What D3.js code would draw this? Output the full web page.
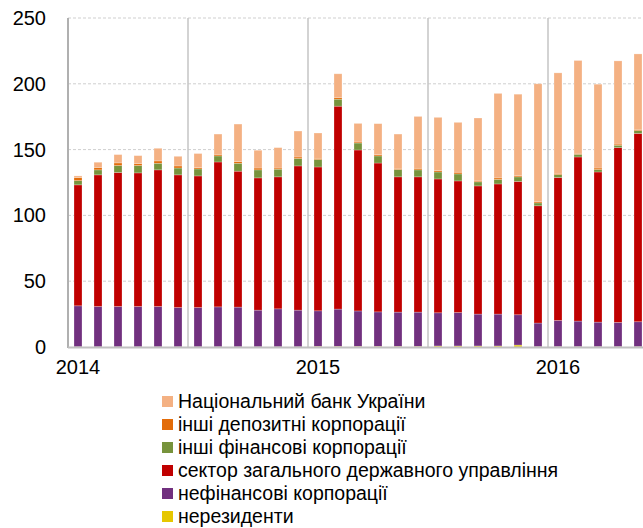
<!DOCTYPE html>
<html>
<head>
<meta charset="utf-8">
<script src="https://cdn.jsdelivr.net/npm/d3@7"></script>
<style>
  body { margin: 0; background: #fff; }
  text { font-family: "Liberation Sans", Arial, sans-serif; }
</style>
</head>
<body>
<svg id="chart" width="643" height="528"></svg>
<script>
// months Jan 2014 .. May 2016
var months = ["2014-01","2014-02","2014-03","2014-04","2014-05","2014-06","2014-07","2014-08","2014-09","2014-10","2014-11","2014-12",
              "2015-01","2015-02","2015-03","2015-04","2015-05","2015-06","2015-07","2015-08","2015-09","2015-10","2015-11","2015-12",
              "2016-01","2016-02","2016-03","2016-04","2016-05"]
var yearLabels = {"2014-01": "2014", "2015-01": "2015", "2016-01": "2016"}

var nonResidents = [0.2,0.2,0.2,0.2,0.2,0.2,0.2,0.2,0.2,0.2,0.2,0.2, 0.5,0.5,0.5,0.5,0.5,0.5,0.8,0.8,0.8,0.8,1.5,0.3, 0.3,0.3,0.3,0.3,0.3]
var nonFinCorp   = [31.1,30.6,30.6,30.6,30.6,29.8,29.8,30.3,30.1,27.8,28.8,27.8, 27.0,28.3,26.9,26.2,26.0,26.0,25.2,25.4,24.2,24.2,23.0,17.9, 19.9,19.4,18.6,18.4,18.9]
var govSector    = [91.9,100.0,101.8,101.5,103.8,100.8,100.0,110.1,103.3,100.5,100.3,109.6, 109.3,154.2,122.3,113.1,102.8,102.8,101.7,100.0,97.4,98.9,101.3,89.1, 108.6,124.7,114.1,132.8,143.1]
var otherFinCorp = [3.2,3.8,5.3,5.6,5.0,5.2,5.3,4.6,6.0,6.1,5.8,5.6, 5.6,5.3,5.3,5.4,5.5,5.3,5.3,5.3,3.1,3.4,3.5,2.2, 2.2,2.0,1.8,1.8,2.1]
var otherDepCorp = [2.3,1.8,2.0,1.5,1.8,1.6,1.0,1.2,1.3,1.4,0.9,1.2, 1.0,1.3,0.8,1.0,0.5,1.2,1.1,1.3,0.7,1.2,1.0,1.1, 1.0,0.8,1.2,0.9,1.0]
var nbu          = [1.3,4.0,6.3,6.0,9.6,7.3,10.7,15.4,28.5,13.5,15.5,19.7, 19.2,18.0,14.1,23.5,26.5,39.4,40.4,37.9,47.8,64.2,61.8,89.4, 76.3,70.5,63.7,63.2,57.3]

var seriesKeys   = ["nonres","nonfin","gov","otherfin","otherdep","nbu"]
var seriesNames  = ["нерезиденти","нефінансові корпорації","сектор загального державного управління","інші фінансові корпорації","інші депозитні корпорації","Національний банк України"]
var seriesColors = ["#e6c700","#71307f","#c00000","#77933c","#e36c09","#f4b183"]
var yTicks = [0, 50, 100, 150, 200, 250]

var rows = months.map(function (m, i) {
  return {month: m, nonres: nonResidents[i], nonfin: nonFinCorp[i], gov: govSector[i],
          otherfin: otherFinCorp[i], otherdep: otherDepCorp[i], nbu: nbu[i]}
})

var svg = d3.select("#chart")
var plotLeft = 68, plotRight = 648, plotTop = 18, plotBottom = 347

var x = d3.scaleBand().domain(months).range([plotLeft, plotRight]).paddingInner(0.6).paddingOuter(0.3)
var y = d3.scaleLinear().domain([0, 250]).range([plotBottom, plotTop])

// horizontal grid
svg.append("g").selectAll("line")
  .data(yTicks.slice(1))
  .enter().append("line")
  .attr("x1", plotLeft).attr("x2", 643)
  .attr("y1", d => y(d)).attr("y2", d => y(d))
  .attr("stroke", "#cfcfcf")
  .attr("stroke-dasharray", "3,2")

// half-year separators
var seps = months.filter((m, i) => i > 0 && i % 6 == 0)
svg.append("g").selectAll("line")
  .data(seps)
  .enter().append("line")
  .attr("x1", d => x(d) - x.step() * 0.3).attr("x2", d => x(d) - x.step() * 0.3)
  .attr("y1", plotTop).attr("y2", plotBottom)
  .attr("stroke", "#c4c4c4").attr("stroke-width", 1.5)

var stack = d3.stack().keys(seriesKeys)
var layers = stack(rows)

svg.append("g").selectAll("g")
  .data(layers)
  .enter().append("g")
  .attr("fill", (d, i) => seriesColors[i])
  .selectAll("rect")
  .data(d => d)
  .enter().append("rect")
  .attr("x", d => x(d.data.month))
  .attr("y", d => y(d[1]))
  .attr("width", x.bandwidth())
  .attr("height", d => y(d[0]) - y(d[1]))
  .attr("stroke", "rgba(255,255,255,0.35)")
  .attr("stroke-width", 0.7)

// axes lines
svg.append("line").attr("x1", plotLeft).attr("x2", plotLeft).attr("y1", plotTop).attr("y2", plotBottom + 1)
  .attr("stroke", "#b0b0b0").attr("stroke-width", 2)
svg.append("line").attr("x1", plotLeft).attr("x2", 643).attr("y1", plotBottom + 0.5).attr("y2", plotBottom + 0.5)
  .attr("stroke", "#c0c0c0").attr("stroke-width", 2)

var yAxis = svg.append("g")
  .attr("transform", "translate(" + plotLeft + ",0)")
  .call(d3.axisLeft(y).tickValues(yTicks).tickSize(0).tickPadding(22))
yAxis.select(".domain").remove()
yAxis.selectAll("text").attr("font-size", 20).attr("fill", "#000").style("font-family", "'Liberation Sans', Arial, sans-serif")

var xAxis = svg.append("g")
  .attr("transform", "translate(0," + plotBottom + ")")
  .call(d3.axisBottom(x).tickValues(Object.keys(yearLabels)).tickFormat(d => yearLabels[d]).tickSize(0).tickPadding(13))
xAxis.select(".domain").remove()
xAxis.selectAll("text").attr("font-size", 20).attr("fill", "#000").style("font-family", "'Liberation Sans', Arial, sans-serif")

// legend, top to bottom = reverse stack order
var legendItems = seriesKeys.map((k, i) => ({name: seriesNames[i], color: seriesColors[i]})).reverse()
var legend = svg.append("g").attr("transform", "translate(162,391)")
var li = legend.selectAll("g").data(legendItems).enter().append("g")
  .attr("transform", (d, i) => "translate(0," + (i * 23) + ")")
li.append("rect").attr("width", 11).attr("height", 11).attr("y", 5).attr("fill", d => d.color)
li.append("text").attr("x", 16).attr("y", 17).attr("font-size", 19.5).attr("fill", "#000").text(d => d.name)
</script>
</body>
</html>
